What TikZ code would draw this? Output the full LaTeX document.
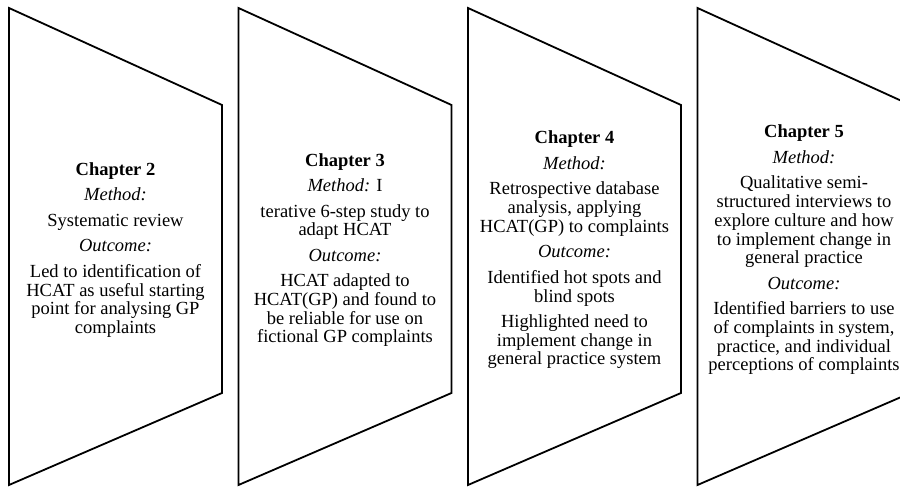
\documentclass[tikz,border=0pt]{standalone}
\usepackage{fontspec}
\setmainfont{Liberation Serif}
\begin{document}
\begin{tikzpicture}[x=1pt,y=1pt,
  panel/.style={draw=black, line width=1.8pt, line join=miter},
  chaptext/.style={align=center, inner sep=0pt, font={\fontsize{18.5}{18.7}\selectfont}}]
\useasboundingbox (0,0) rectangle (900,489);
\clip (0,0) rectangle (900,489);
\foreach \i in {0,1,2,3} {
  \pgfmathsetmacro\L{9+229.5*\i}
  \draw[panel] (\L,481) -- (\L+213,384) -- (\L+213,96) -- (\L,4) -- cycle;
}
\node[chaptext] (c2) at (115.5,239) {\textbf{Chapter 2}\\[6.8pt]
  \textit{Method:}\\[6.8pt]
  Systematic review\\[6.8pt]
  \textit{Outcome:}\\[6.8pt]
  Led to identification of\\
  HCAT as useful starting\\
  point for analysing GP\\
  complaints};
\node[chaptext] (c3) at (345,239) {\textbf{Chapter 3}\\[6.8pt]
  \textit{Method:} I\\[6.8pt]
  terative 6-step study to\\
  adapt HCAT\\[6.8pt]
  \textit{Outcome:}\\[6.8pt]
  HCAT adapted to\\
  HCAT(GP) and found to\\
  be reliable for use on\\
  fictional GP complaints};
\node[chaptext] (c4) at (574.5,239) {\textbf{Chapter 4}\\[6.8pt]
  \textit{Method:}\\[6.8pt]
  Retrospective database\\
  analysis, applying\\
  HCAT(GP) to complaints\\[6.8pt]
  \textit{Outcome:}\\[6.8pt]
  Identified hot spots and\\
  blind spots\\[6.8pt]
  Highlighted need to\\
  implement change in\\
  general practice system};
\node[chaptext] (c5) at (804,239) {\textbf{Chapter 5}\\[6.8pt]
  \textit{Method:}\\[6.8pt]
  Qualitative semi-\\
  structured interviews to\\
  explore culture and how\\
  to implement change in\\
  general practice\\[6.8pt]
  \textit{Outcome:}\\[6.8pt]
  Identified barriers to use\\
  of complaints in system,\\
  practice, and individual\\
  perceptions of complaints};
\end{tikzpicture}
\end{document}
